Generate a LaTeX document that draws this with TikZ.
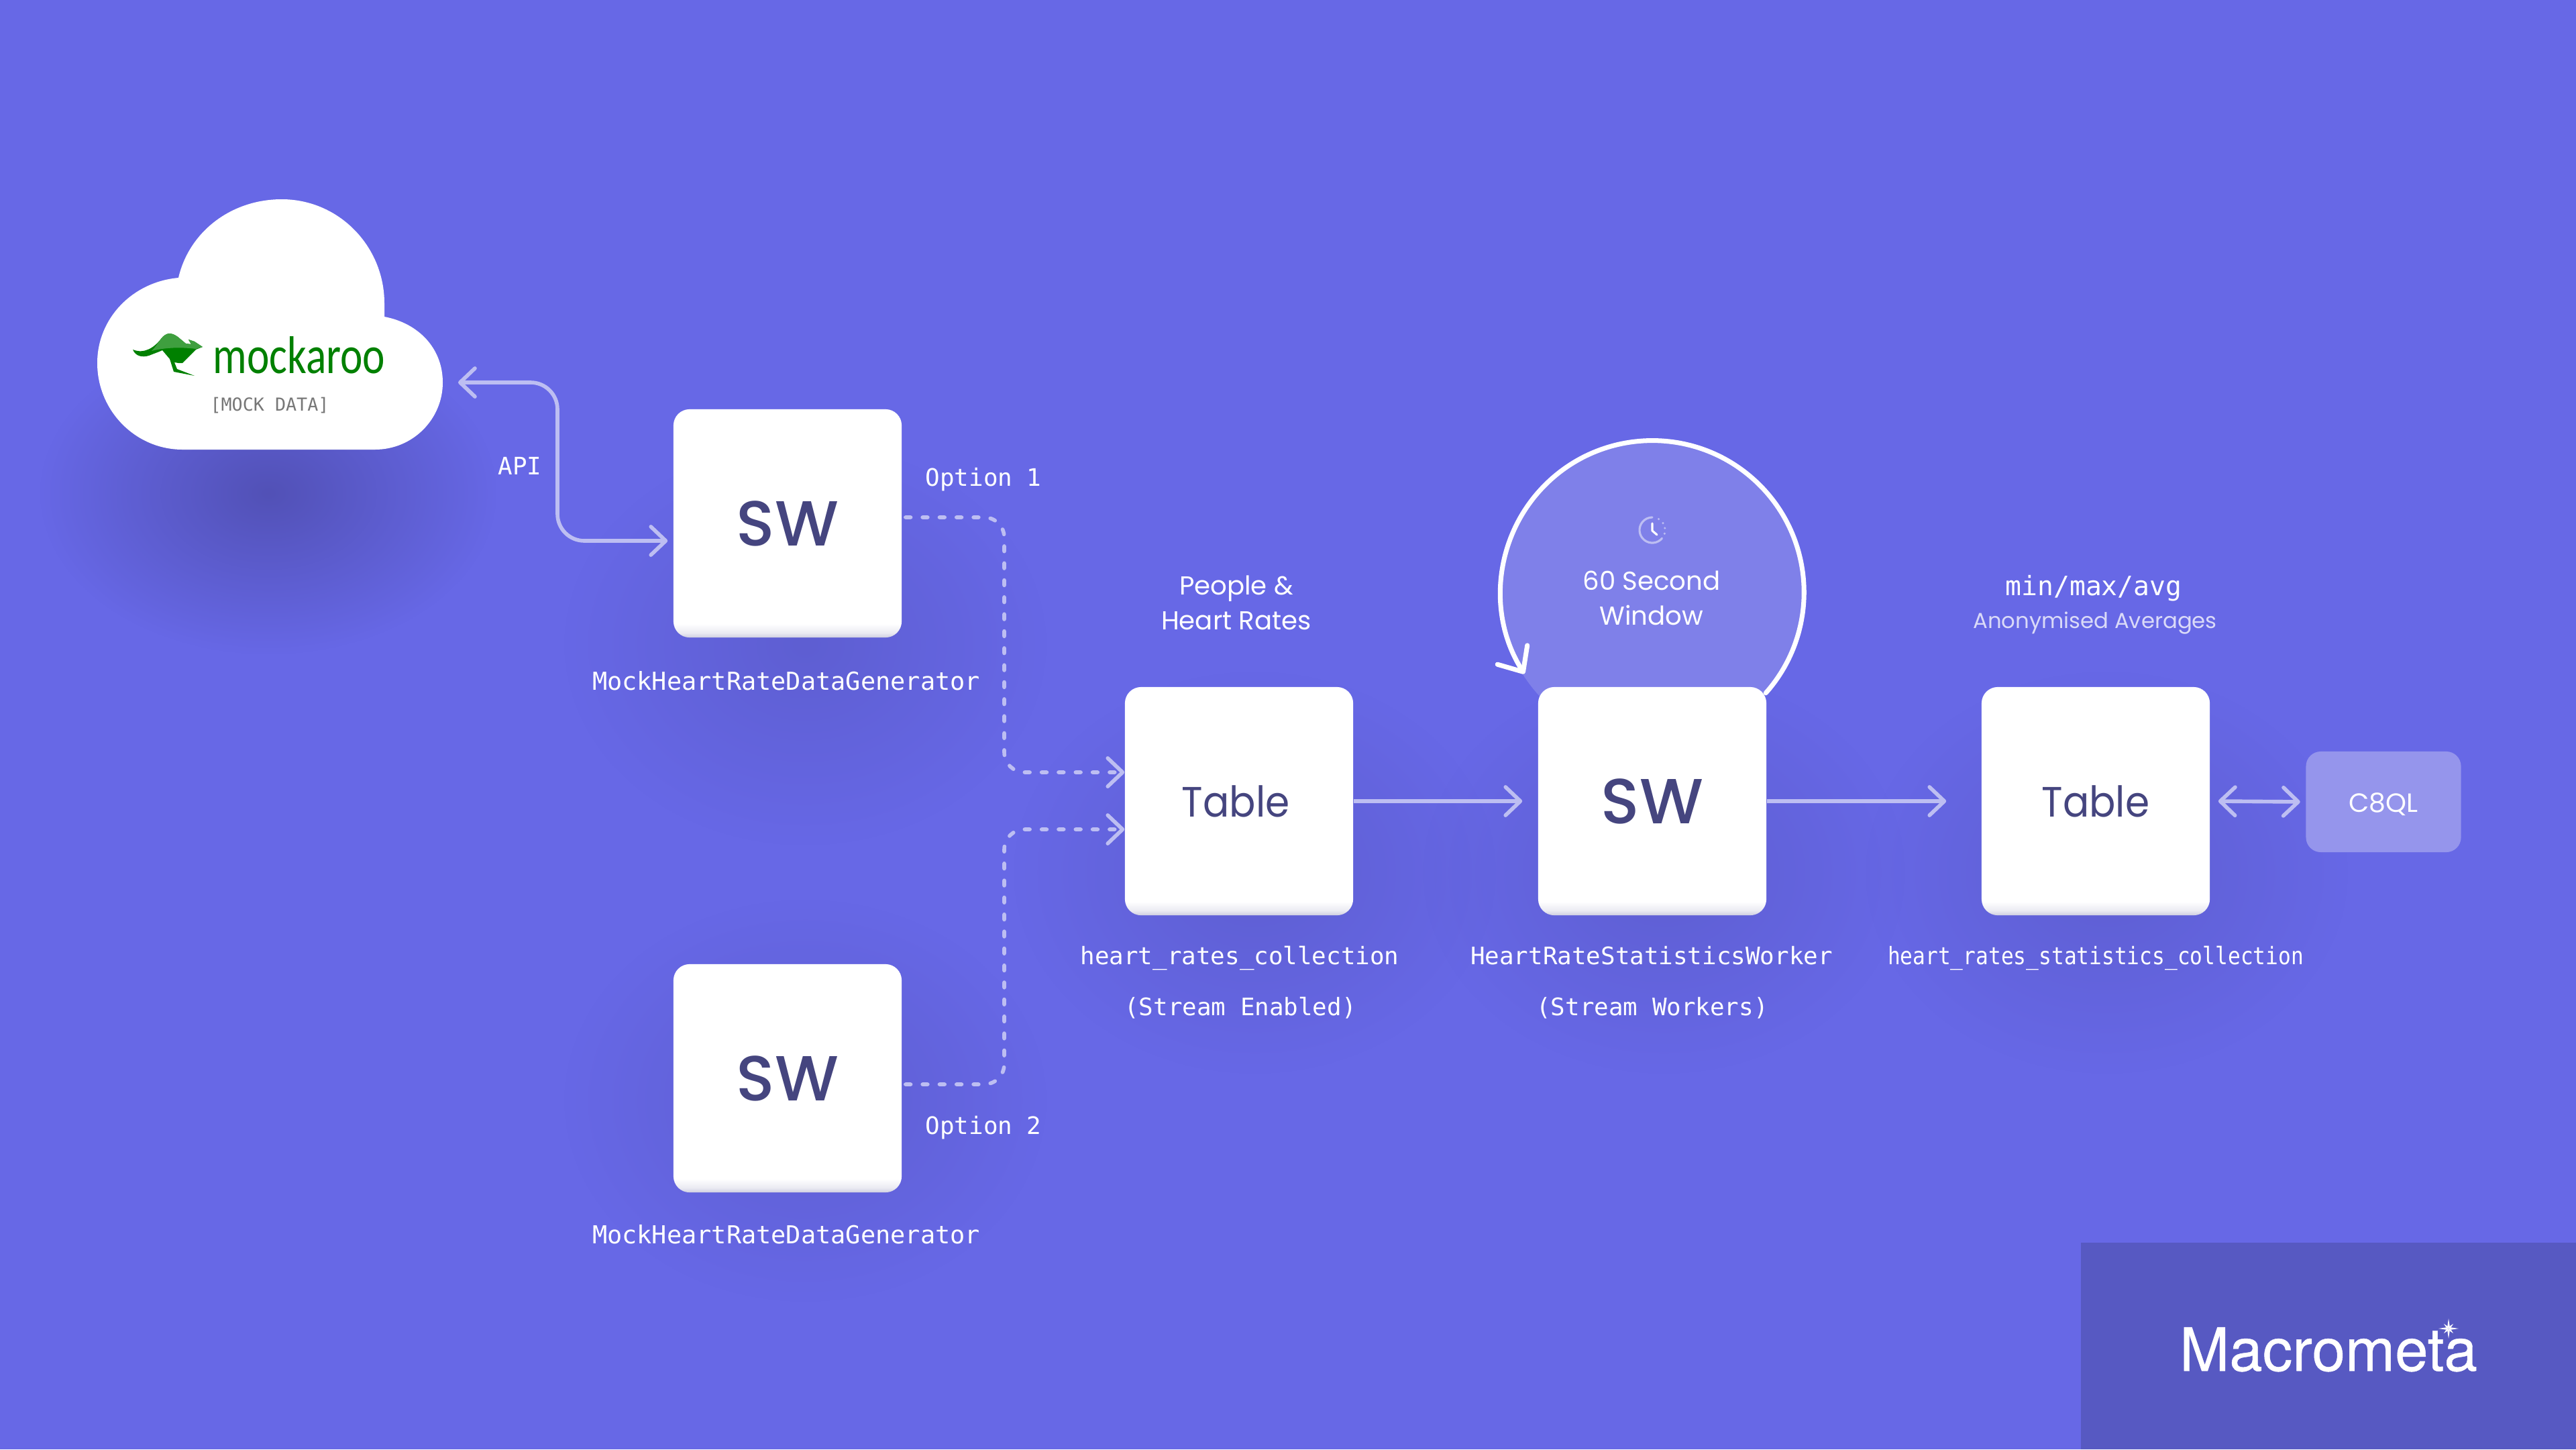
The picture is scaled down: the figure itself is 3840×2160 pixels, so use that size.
\documentclass[tikz,border=0pt]{standalone}
\usepackage{fontspec}
\usetikzlibrary{arrows.meta,fadings}
\setmainfont{Poppins}
\newfontfamily\swfont[UprightFont=* Medium]{Poppins}
\newfontfamily\tablefont[FakeStretch=.92]{Poppins}
\newfontfamily\codefont{DejaVu Sans Mono}
\newfontfamily\logofont[FakeBold=.5]{TeX Gyre Heros}
\newfontfamily\mockfont{Carlito}

\definecolor{bgcol}{HTML}{6768E6}
\definecolor{panelcol}{HTML}{5759C2}
\definecolor{shadowcol}{HTML}{5150B4}
\definecolor{inkcol}{HTML}{45457F}
\definecolor{linkcol}{HTML}{BDBEF2}
\definecolor{windowcol}{HTML}{7F80E9}
\definecolor{querycol}{HTML}{9595EC}
\definecolor{subcol}{HTML}{DADAF8}
\definecolor{greycol}{HTML}{777777}
\definecolor{roogreen}{HTML}{008000}
\definecolor{roolight}{HTML}{3F9F3F}
\definecolor{edgecol}{HTML}{CFCFE0}
\definecolor{edgemid}{HTML}{EAEAF2}

\pgfdeclareverticalshading{boxfade}{100bp}{color(0bp)=(edgecol); color(25bp)=(edgecol); color(26bp)=(edgemid); color(28bp)=(white); color(100bp)=(white)}
\tikzfading[name=softglow,inner color=transparent!0,outer color=transparent!100]

\providecommand*{\boxSize}{}
\providecommand*{\busX}{}
\renewcommand*{\boxSize}{3.4cm}
\renewcommand*{\busX}{1497}

\tikzset{
  block/.style={shading=boxfade,rounded corners=.24cm,minimum width=\boxSize,minimum height=\boxSize,inner sep=0pt,text=inkcol},
  swtext/.style={font=\swfont\fontsize{27}{27}\selectfont},
  tabletext/.style={font=\tablefont\fontsize{18}{18}\selectfont},
  code/.style={font=\codefont\fontsize{10.2}{10.2}\selectfont,text=white,anchor=base},
  plain/.style={font=\fontsize{11}{14.8}\selectfont,text=white,align=center},
  glow/.style={fill=shadowcol,path fading=softglow},
  link/.style={draw=linkcol,line width=1.6pt,rounded corners=.4cm,-{Straight Barb[length=6.3pt,width=12pt,round]}},
  duplex/.style={link,{Straight Barb[length=6.3pt,width=12pt,round]}-{Straight Barb[length=6.3pt,width=12pt,round]}},
  dashlink/.style={link,line cap=round,dash pattern=on 2.2pt off 5pt,rounded corners=.3cm},
}

\begin{document}
\begin{tikzpicture}[x=.01cm,y=-.01cm]
  \fill [bgcol] (0,0) rectangle (3840,2160);
  \fill [panelcol] (3102,1852) rectangle (3840,2160);

%shadows
  \fill [glow,opacity=.95] (400,735) ellipse [x radius=3.4cm,y radius=2.4cm];
  \fill [glow,opacity=.4] (1200,960) ellipse [x radius=3.6cm,y radius=3cm];
  \fill [glow,opacity=.4] (1200,1640) ellipse [x radius=3.6cm,y radius=3cm];
  \fill [glow,opacity=.4] (1870,1300) ellipse [x radius=3.6cm,y radius=3cm];
  \fill [glow,opacity=.4] (2480,1300) ellipse [x radius=3.6cm,y radius=3cm];
  \fill [glow,opacity=.4] (3140,1300) ellipse [x radius=3.6cm,y radius=3cm];

%cloud
  \fill [white] (272,670) -- (559,670)
    .. controls (615,670) and (660,625) .. (660,570)
    .. controls (660,520) and (625,482) .. (573,472)
    -- (573,452)
    .. controls (573,367) and (505,297) .. (420,297)
    .. controls (345,297) and (282,345) .. (266,414)
    .. controls (198,420) and (145,474) .. (145,541)
    .. controls (145,612) and (202,670) .. (272,670) -- cycle;

%kangaroo
  \fill [roogreen] (198,521) .. controls (202,531) and (212,533) .. (222,530)
    .. controls (232,526) and (238,524) .. (242,522) -- (253,535) -- (259,554)
    -- (290,560) -- (264,550) -- (260,540) -- (266,541) -- (272,541)
    -- (283,530) -- (292,521) -- (302,517) -- (290,509) -- (281,506)
    -- (285,513) -- (277,512) -- (265,502)
    .. controls (255,495) and (248,495) .. (240,505)
    .. controls (230,518) and (215,528) .. (198,521) -- cycle;
  \fill [roolight] (226,523) .. controls (232,517) and (236,510) .. (240,505)
    .. controls (248,495) and (255,495) .. (265,502) -- (277,512) -- (285,513)
    -- (281,506) -- (290,509) -- (302,517) -- (292,520)
    .. controls (270,517) and (245,518) .. (226,523) -- cycle;
  \node (mocklogo) [font=\mockfont\fontsize{18}{18}\selectfont,text=roogreen,anchor=base,yscale=1.25,transform shape] at (446,556) {mockaroo};
  \node (mockdata) [code,font=\codefont\fontsize{7.6}{7.6}\selectfont,text=greycol] at (402,612) {[MOCK DATA]};

%window
  \node (window) [circle,fill=windowcol,minimum size=4.52cm,inner sep=0pt] at (2461,884) {};
  \draw [white,line width=2pt,line cap=round,line join=round,-{Straight Barb[length=8.5pt,width=15pt,round]}] (window.-41.6) arc [start angle=-41.6,end angle=212.5,radius=2.26cm];

%clock
  \coordinate (clock) at (2463,790);
  \draw [linkcol,line width=.9pt,line cap=round] (clock) ++(-40:.19cm) arc [start angle=-40,end angle=-270,radius=.19cm];
  \foreach \a in {60,33,9,-16}
    \fill [linkcol] (clock) ++(\a:.19cm) circle [radius=.017cm];
  \draw [white,line width=.9pt,line cap=round,line join=round] ([yshift=.1cm]clock) -- ([yshift=-.01cm]clock) -- ([xshift=.07cm,yshift=-.07cm]clock);
  \node (windowtext) [plain] at (2462,891) {60 Second\\Window};

%blocks
  \node (sw1) [block,swtext] at (1174,780) {SW};
  \node (sw2) [block,swtext] at (1174,1607) {SW};
  \node (tab1) [block,tabletext] at (1847,1194) {Table\hspace*{2.8pt}};
  \node (sw3) [block,swtext] at (2463,1194) {SW};
  \node (tab2) [block,tabletext] at (3124,1194) {Table};
  \node (query) [rounded corners=.22cm,fill=querycol,text=white,minimum width=2.31cm,minimum height=1.5cm,inner sep=0pt,text height=8.7pt,text depth=0pt,font=\fontsize{11.2}{11.2}\selectfont] at (3553,1195) {C8QL};

%links
  \coordinate (cloudport) at (683,570);
  \draw [duplex] (cloudport) -- (831,570) -- (831,806) -- ([xshift=-.08cm,yshift=-.26cm]sw1.west);
  \draw [dashlink] ([xshift=.05cm,yshift=.09cm]sw1.east) -- (\busX,771) -- (\busX,1151) -- ([yshift=.43cm]tab1.west);
  \draw [dashlink] ([xshift=.05cm,yshift=-.09cm]sw2.east) -- (\busX,1616) -- (\busX,1236) -- ([yshift=-.42cm]tab1.west);
  \draw [link] (tab1) -- ([xshift=-.23cm]sw3.west);
  \draw [link] (sw3) -- ([xshift=-.52cm]tab2.west);
  \draw [duplex] ([xshift=.12cm]tab2.east) -- ([xshift=-.08cm]query.west);

%labels
  \node (apilabel) [code] at (775,707) {API};
  \node (opt1label) [code] at (1466,724) {Option 1};
  \node (opt2label) [code] at (1466,1690) {Option 2};
  \node (sw1label) [code,font=\codefont\fontsize{10.5}{10.5}\selectfont] at (1172,1028) {MockHeartRateDataGenerator};
  \node (sw2label) [code,font=\codefont\fontsize{10.5}{10.5}\selectfont] at (1172,1853) {MockHeartRateDataGenerator};
  \node (tab1label) [code] at (1848,1437) {heart\_rates\_collection};
  \node (tab1note) [code] at (1849,1513) {(Stream Enabled)};
  \node (sw3label) [code] at (2462,1437) {HeartRateStatisticsWorker};
  \node (sw3note) [code] at (2463,1513) {(Stream Workers)};
  \node (tab2label) [code,xscale=.87,transform shape] at (3124,1437) {heart\_rates\_statistics\_collection};
  \node (peoplelabel) [plain] at (1843,898) {People \&\\Heart Rates};
  \node (statlabel) [code,font=\codefont\fontsize{11.3}{11.3}\selectfont] at (3121,887) {min/max/avg};
  \node (statnote) [font=\fontsize{9.2}{9.2}\selectfont,text=subcol,anchor=base] at (3123,936) {Anonymised Averages};

%logo
  \node (brand) [font=\logofont\fontsize{25.3}{25.3}\selectfont,text=white,anchor=base] at (3471,2043) {Macrometa};
  \coordinate (spark) at (3650,1980);
  \foreach \a in {0,90,180,270} {
    \fill [white] ([shift={(\a+25:.04cm)}]spark) -- ([shift={(\a:.15cm)}]spark) -- ([shift={(\a-25:.04cm)}]spark) -- (spark) -- cycle;
    \fill [white] ([shift={(\a+25:.04cm)}]spark) -- ([shift={(\a+45:.1cm)}]spark) -- ([shift={(\a+65:.04cm)}]spark) -- (spark) -- cycle;
  }
\end{tikzpicture}
\end{document}
